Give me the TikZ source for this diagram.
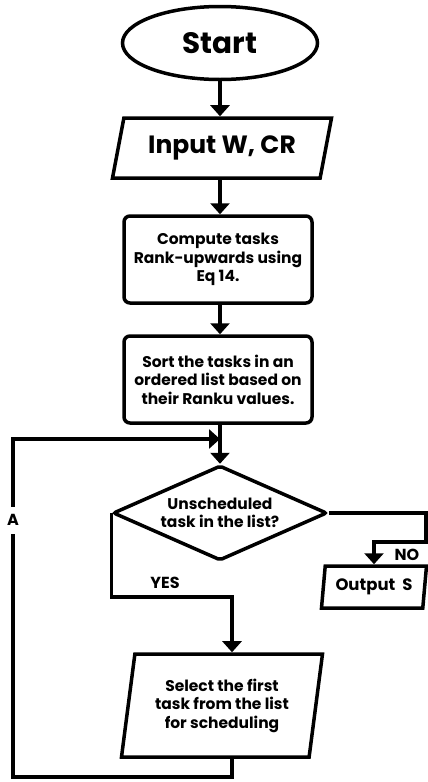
\documentclass[tikz,border=0pt]{standalone}
\usepackage{fontspec}
\setmainfont{Poppins}
\usetikzlibrary{arrows.meta, positioning, shapes.geometric}
\tikzset{
  blk/.style    = {draw=black, line width=3.5pt, align=center, inner sep=0pt,
                   font=\fontsize{15.5}{18.5}\selectfont\bfseries},
  term/.style   = {blk, ellipse, minimum width=195pt, minimum height=73pt,
                   font=\fontsize{29.5}{31}\selectfont\bfseries},
  proc/.style   = {blk, rectangle, rounded corners=6pt, minimum width=188pt, minimum height=87pt},
  io/.style     = {blk, trapezium, trapezium left angle=#1, trapezium right angle=180-#1,
                   trapezium stretches body},
  dec/.style    = {blk, diamond, rounded corners=2pt, minimum width=214pt, minimum height=95pt,
                   shape aspect=2.25},
  fl/.style     = {-{Triangle[length=11pt, width=19pt]}, line width=3.5pt, draw=black},
  elab/.style   = {font=\fontsize{16}{18}\selectfont\bfseries, inner sep=1pt},
}
\begin{document}
\begin{tikzpicture}[x=1pt, y=-1pt]
\useasboundingbox (0,0) rectangle (428,782);
% main column
\node[term] (start) at (220,43) {Start};
\node[io=65, minimum width=219pt, minimum height=60pt,
      font=\fontsize{25}{27}\selectfont\bfseries] (input) at (222,148) {Input W, CR};
\node[proc] (rank) at (218,259.5) {Compute tasks\\Rank-upwards using\\Eq 14.};
\node[proc] (sort) at (218,379.5) {Sort the tasks in an\\ordered list based on\\their Ranku values.};
\node[dec] (unsch) at (220,513) {Unscheduled\\task in the list?};
% branches
\node[io=77, minimum width=105pt, minimum height=42pt,
      font=\fontsize{16.5}{18}\selectfont\bfseries] (outs) at (374,587) {Output~~S};
\node[io=76, minimum width=201pt, minimum height=103pt] (sel) at (222,705.5)
  {Select the first\\task from the list\\for scheduling};
\coordinate (merge)  at (220,439);
\coordinate (nobend) at (426,542);
\coordinate (yesbend) at (232,597);
\coordinate (lpbot)  at (13,777);
\draw[fl] (start.south) -- (start.south |- input.north);
\draw[fl] (start.south |- input.south) -- (start.south |- rank.north);
\draw[fl] (start.south |- rank.south) -- (start.south |- sort.north);
\draw[fl] (start.south |- sort.south) -- (unsch.north);
\draw[fl] (unsch.east) -| (nobend) -| (outs.north);
\draw[fl] (unsch.west) |- (yesbend) -- (yesbend |- sel.north);
\draw[fl] (yesbend |- sel.south) |- (lpbot)
  -- node[pos=0.76, elab, fill=white, inner ysep=8pt] (alab) {A} (lpbot |- merge) -- (merge);
\node[elab] (nolab) at (407,555) {NO};
\node[elab] (yeslab) at (165,583) {YES};
\end{tikzpicture}
\end{document}
